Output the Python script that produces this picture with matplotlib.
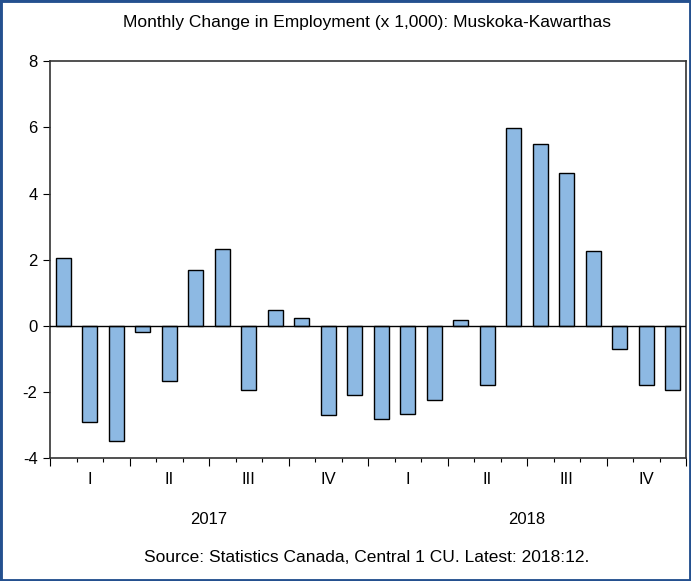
import matplotlib
matplotlib.use("Agg")
import matplotlib.pyplot as plt
from matplotlib.patches import Rectangle
from matplotlib.ticker import MultipleLocator, FixedLocator
import matplotlib.transforms as mtransforms

plt.rcParams['font.family'] = ['Liberation Sans', 'DejaVu Sans']
plt.rcParams['axes.unicode_minus'] = False

# monthly change in employment (thousands), Jan 2017 - Dec 2018
values = [2.05, -2.9, -3.47, -0.17, -1.66, 1.68, 2.34, -1.94, 0.49, 0.24, -2.69, -2.1,
          -2.82, -2.67, -2.23, 0.18, -1.78, 5.99, 5.51, 4.61, 2.26, -0.69, -1.78, -1.94]
quarters = ["I", "II", "III", "IV", "I", "II", "III", "IV"]
years = ["2017", "2018"]
title = "Monthly Change in Employment (x 1,000): Muskoka-Kawarthas"
source = "Source: Statistics Canada, Central 1 CU. Latest: 2018:12."

fig = plt.figure(figsize=(6.91, 5.81), dpi=100)
ax = fig.add_axes([50/691, 1-458.3/581, 636/691, (458.3-61.3)/581])

x = list(range(len(values)))
ax.bar(x, values, width=0.57, color='#8DB9E3', edgecolor='black', linewidth=1, zorder=2)
ax.axhline(0, color='black', linewidth=1, zorder=3)

ax.set_xlim(-0.5, len(values) - 0.5)
ax.set_ylim(-4, 8)
ax.yaxis.set_major_locator(MultipleLocator(2))
ax.tick_params(axis='y', direction='out', length=5, width=0.8, pad=4, labelsize=12)

ax.xaxis.set_major_locator(FixedLocator([i - 0.5 for i in range(0, len(values) + 1, 3)]))
ax.xaxis.set_minor_locator(FixedLocator([i - 0.5 for i in range(0, len(values) + 1)]))
ax.tick_params(axis='x', which='major', direction='out', length=6, width=0.8, labelbottom=False)
ax.tick_params(axis='x', which='minor', direction='out', length=3, width=0.8)

for s in ax.spines.values():
    s.set_linewidth(1.2)
    s.set_color('#333333')

trans = mtransforms.blended_transform_factory(ax.transData, fig.transFigure)
for i, q in enumerate(quarters):
    ax.text(i * 3 + 1, 1 - 480/581, q, transform=trans, ha='center', va='center', fontsize=12)
for i, yl in enumerate(years):
    ax.text(i * 12 + 5.5, 1 - 519/581, yl, transform=trans, ha='center', va='center', fontsize=12)

fig.text(367/691, 1 - 22/581, title, ha='center', va='center', fontsize=12.5)
fig.text(367/691, 1 - 558/581, source, ha='center', va='center', fontsize=12.5)

fig.patches.append(Rectangle((0, 0), 1, 1, transform=fig.transFigure, fill=False,
                             edgecolor='#24508F', linewidth=3.5, zorder=10))

fig.savefig("out.png", dpi=100)
